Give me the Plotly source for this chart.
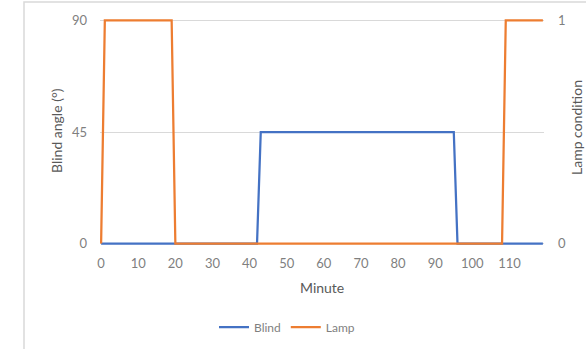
import plotly.graph_objects as go

minutes = list(range(120))
blind_angle = [0] * 43 + [45] * 53 + [0] * 24          # minutes 0-42: 0, 43-95: 45, 96-119: 0
lamp_condition = [0] + [1] * 19 + [0] * 89 + [1] * 11  # 0: off, 1-19: on, 20-108: off, 109-119: on
x_tick_vals = list(range(0, 120, 10))
y_left_ticks = [0, 45, 90]
y_right_ticks = [0, 1]

BLUE = "#4472C4"
ORANGE = "#ED7D31"
FONT = "Lato"
TICK_C = "#7F7F7F"
TITLE_C = "#595959"

fig = go.Figure()
fig.add_trace(go.Scatter(x=minutes, y=blind_angle, mode="lines", name="Blind",
                         line=dict(color=BLUE, width=2.25), yaxis="y"))
fig.add_trace(go.Scatter(x=minutes, y=lamp_condition, mode="lines", name="Lamp",
                         line=dict(color=ORANGE, width=2.25), yaxis="y2"))

W, H = 586, 349
L, R, T, B = 100, 42, 18, 103
ph = H - T - B

def py(pix):
    return (H - B - pix) / ph

def px(pix):
    return (pix - L) / (W - L - R)

fig.update_layout(
    width=W, height=H,
    margin=dict(l=L, r=R, t=T, b=B, autoexpand=False),
    paper_bgcolor="white", plot_bgcolor="white",
    font=dict(family=FONT, size=13, color=TICK_C),
    showlegend=True,
    legend=dict(orientation="h", x=px(287), y=py(327), xanchor="center", yanchor="middle",
                font=dict(size=12, color=TICK_C), bgcolor="rgba(0,0,0,0)"),
    xaxis=dict(range=[-0.3, 119.3], tickvals=x_tick_vals, showgrid=False, zeroline=False,
               showline=False, ticks="", ticklabelstandoff=8, automargin=False,
               tickfont=dict(size=13, color=TICK_C)),
    yaxis=dict(range=[-1, 91], tickvals=y_left_ticks, showgrid=True, gridcolor="#D9D9D9",
               gridwidth=1, zeroline=False, showline=False, ticks="", ticklabelstandoff=12,
               automargin=False, tickfont=dict(size=13, color=TICK_C)),
    yaxis2=dict(range=[-1 / 90, 1 + 1 / 90], tickvals=y_right_ticks, overlaying="y", side="right",
                showgrid=False, zeroline=False, showline=False, ticks="", ticklabelstandoff=13,
                automargin=False, tickfont=dict(size=13, color=TICK_C)),
    annotations=[
        dict(text="Minute", xref="paper", yref="paper", x=px(322), y=py(287),
             showarrow=False, font=dict(size=14, color=TITLE_C), xanchor="center", yanchor="middle"),
        dict(text="Blind angle (°)", xref="paper", yref="paper", x=px(56), y=py(131),
             showarrow=False, textangle=-90, font=dict(size=14, color=TITLE_C),
             xanchor="center", yanchor="middle"),
        dict(text="Lamp condition", xref="paper", yref="paper", x=px(577), y=py(128),
             showarrow=False, textangle=-90, font=dict(size=14, color=TITLE_C),
             xanchor="center", yanchor="middle"),
    ],
    shapes=[
        dict(type="rect", xref="paper", yref="paper", x0=px(24), x1=px(620), y0=py(380), y1=py(2),
             line=dict(color="#D9D9D9", width=1.5), fillcolor="rgba(0,0,0,0)", layer="below"),
    ],
)

fig.write_html("out.html", config={"displayModeBar": False},
               post_script="document.body.style.margin='0px';document.body.style.overflow='hidden';")
